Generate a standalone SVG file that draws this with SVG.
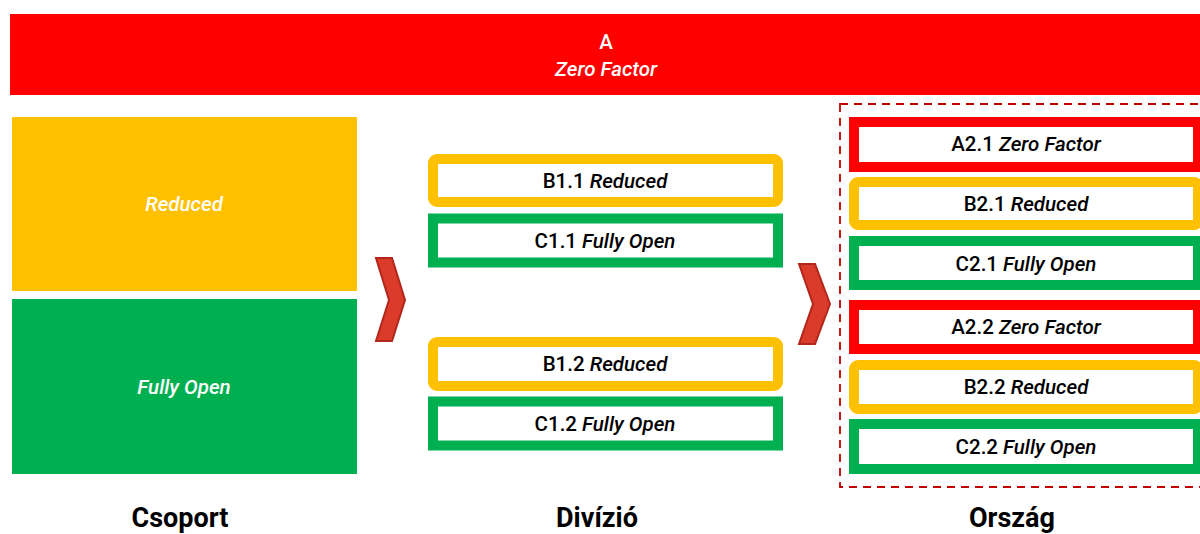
<svg xmlns="http://www.w3.org/2000/svg" width="1200" height="534" viewBox="0 0 1200 534">
  <style>
    text { font-family: Roboto, "Liberation Sans", sans-serif; text-anchor: middle; }
    .lbl { font-size: 20.5px; font-weight: 500; fill: #000; }
    .wlbl { font-size: 20.5px; font-weight: 500; fill: #fff; }
    .it { font-style: italic; }
    .cap { font-size: 27px; font-weight: bold; fill: #000; }
    .frame { fill: #fff; stroke-width: 10; }
    .red { stroke: #ff0000; }
    .yel { stroke: #ffc000; }
    .grn { stroke: #00b050; }
    .chev { fill: #db3b2b; stroke: #b3261c; stroke-width: 2; stroke-linejoin: miter; }
  </style>

  <!-- top banner -->
  <g id="banner">
    <rect x="10" y="14" width="1195" height="81" fill="#ff0000"/>
    <text class="wlbl" x="606" y="49">A</text>
    <text class="wlbl it" x="606" y="76">Zero Factor</text>
  </g>

  <!-- group level -->
  <g id="group-reduced">
    <rect x="12" y="117" width="345" height="174" fill="#ffc000"/>
    <text class="wlbl it" x="184" y="211">Reduced</text>
  </g>
  <g id="group-open">
    <rect x="12" y="299" width="345" height="175" fill="#00b050"/>
    <text class="wlbl it" x="184" y="394">Fully Open</text>
  </g>

  <!-- division level -->
  <g id="b11">
    <rect class="frame yel" x="433" y="159" width="345" height="43" rx="4"/>
    <text class="lbl" x="605" y="188">B1.1 <tspan class="it">Reduced</tspan></text>
  </g>
  <g id="c11">
    <rect class="frame grn" x="433" y="218.5" width="345" height="44"/>
    <text class="lbl" x="605" y="248">C1.1 <tspan class="it">Fully Open</tspan></text>
  </g>
  <g id="b12">
    <rect class="frame yel" x="433" y="342" width="345" height="44" rx="4"/>
    <text class="lbl" x="605" y="371">B1.2 <tspan class="it">Reduced</tspan></text>
  </g>
  <g id="c12">
    <rect class="frame grn" x="433" y="401.5" width="345" height="44"/>
    <text class="lbl" x="605" y="431">C1.2 <tspan class="it">Fully Open</tspan></text>
  </g>

  <!-- country level -->
  <g id="country-frame">
    <rect x="840" y="104" width="370" height="383" fill="none" stroke="#c00000" stroke-width="1.8" stroke-dasharray="8 6"/>
  </g>
  <g id="a21">
    <rect class="frame red" x="854" y="122" width="344" height="45"/>
    <text class="lbl" x="1026" y="151">A2.1 <tspan class="it">Zero Factor</tspan></text>
  </g>
  <g id="b21">
    <rect class="frame yel" x="854" y="182" width="344" height="43" rx="4"/>
    <text class="lbl" x="1026" y="211">B2.1 <tspan class="it">Reduced</tspan></text>
  </g>
  <g id="c21">
    <rect class="frame grn" x="854" y="241" width="344" height="44"/>
    <text class="lbl" x="1026" y="271">C2.1 <tspan class="it">Fully Open</tspan></text>
  </g>
  <g id="a22">
    <rect class="frame red" x="854" y="305" width="344" height="44"/>
    <text class="lbl" x="1026" y="334">A2.2 <tspan class="it">Zero Factor</tspan></text>
  </g>
  <g id="b22">
    <rect class="frame yel" x="854" y="365" width="344" height="44" rx="4"/>
    <text class="lbl" x="1026" y="394">B2.2 <tspan class="it">Reduced</tspan></text>
  </g>
  <g id="c22">
    <rect class="frame grn" x="854" y="424" width="344" height="45"/>
    <text class="lbl" x="1026" y="454">C2.2 <tspan class="it">Fully Open</tspan></text>
  </g>

  <!-- flow chevrons between levels -->
  <g id="connectors">
    <polygon class="chev" points="376,258 392,258 405,300 392,341 376,341 389,300"/>
    <polygon class="chev" points="799,264 815,264 830,304 815,344 799,344 813,304"/>
  </g>

  <!-- level captions -->
  <g id="captions">
    <text class="cap" x="180" y="527">Csoport</text>
    <text class="cap" x="597" y="527">Divízió</text>
    <text class="cap" x="1012" y="527">Ország</text>
  </g>
</svg>
